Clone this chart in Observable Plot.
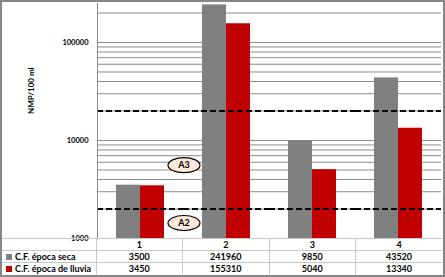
<!DOCTYPE html>
<html><head><meta charset="utf-8">
<script src="https://cdn.jsdelivr.net/npm/d3@7"></script>
<script src="https://cdn.jsdelivr.net/npm/@observablehq/plot@0.6"></script>
<style>
body{margin:0;background:#fff;}
#chart{position:relative;width:445px;height:277px;box-sizing:border-box;border:2px solid #868686;font-family:Lato,"Liberation Sans",sans-serif;overflow:hidden;background:#fff;}
#chart svg{position:absolute;left:0;top:0;}
#tbl{position:absolute;left:0;top:236px;border-collapse:collapse;table-layout:fixed;width:440px;font-weight:bold;font-size:9px;color:#000;}
#tbl td{height:11px;padding:0;border:1px solid #c8c8c8;text-align:center;line-height:11px;white-space:nowrap;overflow:hidden;}
#tbl td.lab{text-align:left;border-left:none;padding-left:4px;}
#tbl tr:first-child td.lab{border-top:none;}
#tbl td:last-child{border-right:none;}
#tbl tr:last-child td{border-bottom:none;}
#tbl .sw{display:inline-block;width:6px;height:6px;margin-right:3px;vertical-align:0px;}
</style></head>
<body>
<div id="chart"></div>
<script>
const categories = ["1", "2", "3", "4"];
const series = ["C.F. época seca", "C.F. época de lluvia"];
const colors = ["#808080", "#c00000"];
const seca = [3500, 241960, 9850, 43520];
const lluvia = [3450, 155310, 5040, 13340];
const standards = [2000, 20000];
const yTicks = [1000, 10000, 100000];
const yDomain = [1000, 250000];
const annLabels = ["A3", "A2"];
const annValues = [5600, 1440];
const annCats = ["2", "2"];
const yLabel = "NMP/100 ml";

const rows = [];
categories.forEach((c, i) => {
  rows.push({cat: c, series: series[0], value: seca[i]});
  rows.push({cat: c, series: series[1], value: lluvia[i]});
});
const anns = annLabels.map((l, i) => ({label: l, value: annValues[i], cat: annCats[i]}));

const ellipse = {
  draw(ctx) {
    const rx = 16, ry = 7.5, k = 0.5523;
    ctx.moveTo(rx, 0);
    ctx.bezierCurveTo(rx, k * ry, k * rx, ry, 0, ry);
    ctx.bezierCurveTo(-k * rx, ry, -rx, k * ry, -rx, 0);
    ctx.bezierCurveTo(-rx, -k * ry, -k * rx, -ry, 0, -ry);
    ctx.bezierCurveTo(k * rx, -ry, rx, -k * ry, rx, 0);
    ctx.closePath();
  }
};

const chart = Plot.plot({
  width: 441,
  height: 245,
  marginLeft: 94,
  marginRight: 1,
  marginTop: 1,
  marginBottom: 9,
  style: {fontFamily: "Lato, 'Liberation Sans', sans-serif", background: "transparent"},
  fx: {domain: categories, paddingInner: 0, paddingOuter: 0, axis: null},
  x: {domain: series, paddingInner: 0, paddingOuter: 0.725, axis: null},
  y: {type: "log", domain: yDomain},
  color: {domain: series, range: colors},
  marks: [
    Plot.gridY({stroke: "#8a8a8a", strokeOpacity: 1}),
    Plot.barY(rows, {fx: "cat", x: "series", y1: yDomain[0], y2: "value", fill: "series"}),
    Plot.ruleY(standards, {stroke: "#000", strokeWidth: 2, strokeDasharray: "6,3"}),
    Plot.frame({anchor: "left", stroke: "#8c8c8c", facet: "super"}),
    Plot.axisY(yTicks, {tickSize: 0, tickPadding: 9, tickFormat: d => String(d), fontWeight: "bold", fontSize: 7.5, label: null}),
    Plot.text([yLabel], {frameAnchor: "left", dx: -66, dy: -7, rotate: -90, facet: "super", fontWeight: "bold", fontSize: 8}),
    Plot.dot(anns, {fx: "cat", y: "value", frameAnchor: "left", dx: 0.5, symbol: ellipse, fill: "#fde9d9", stroke: "#000", strokeWidth: 1.2}),
    Plot.text(anns, {fx: "cat", y: "value", text: "label", frameAnchor: "left", textAnchor: "middle", dx: 0.5, fontWeight: "bold", fontSize: 9})
  ]
});

const root = document.getElementById("chart");
root.appendChild(chart);

const tbl = document.createElement("table");
tbl.id = "tbl";
const colg = document.createElement("colgroup");
colg.innerHTML = `<col style="width:94px">` + categories.map(() => `<col style="width:86.5px">`).join("");
tbl.appendChild(colg);
const head = document.createElement("tr");
head.innerHTML = `<td class="lab"></td>` + categories.map(c => `<td>${c}</td>`).join("");
tbl.appendChild(head);
[seca, lluvia].forEach((vals, si) => {
  const tr = document.createElement("tr");
  tr.innerHTML = `<td class="lab"><span class="sw" style="background:${colors[si]}"></span>${series[si]}</td>` +
    vals.map(v => `<td>${v}</td>`).join("");
  tbl.appendChild(tr);
});
root.appendChild(tbl);
</script>
</body></html>
